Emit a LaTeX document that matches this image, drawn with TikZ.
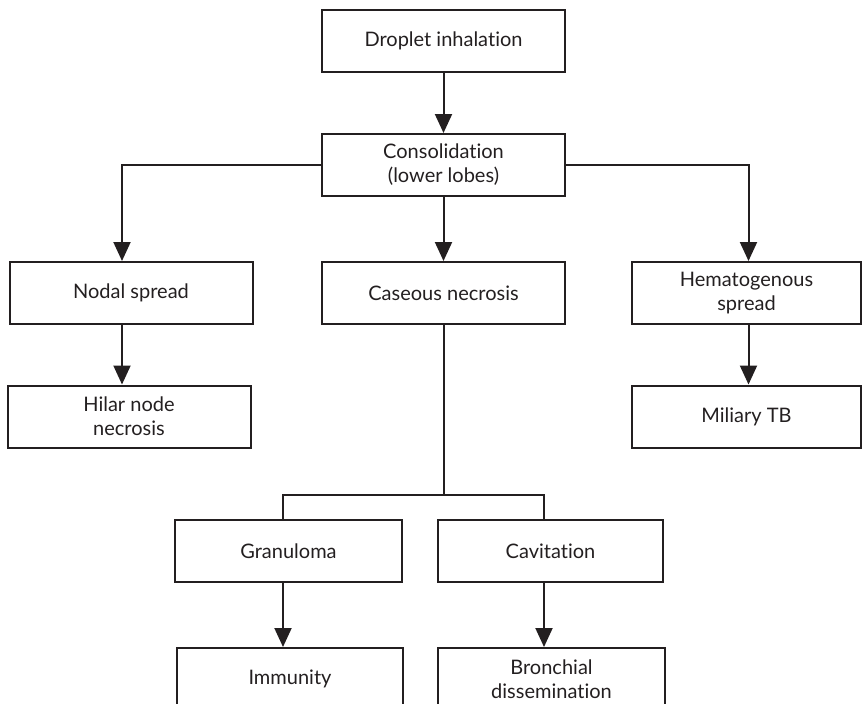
\documentclass[tikz,border=0pt]{standalone}
\usepackage{fontspec}
\setmainfont{Lato}[Ligatures=NoCommon]
\definecolor{ink}{RGB}{35, 31, 32}
\usetikzlibrary{arrows.meta, positioning, calc}

\begin{document}
\begin{tikzpicture}[
      x=1pt, y=-1pt,
      box/.style  = {draw=ink, line width=2pt, minimum width=243pt,
                     minimum height=62pt, align=center, text=ink,
                     font=\fontsize{20}{24}\selectfont, inner sep=2pt},
      arr/.style  = {-{Triangle[width=17pt,length=19pt]}, line width=2pt, draw=ink},
      link/.style = {line width=2pt, draw=ink},
    ]
    \useasboundingbox (0,0) rectangle (862,704);

    % --- Colonne (asse X) ---
    \def\xLeft{131}
    \def\xMid{443.5}
    \def\xRight{746.5}

    % --- Boxes ---
    \node[box] (drop) at (\xMid, 41)  {Droplet inhalation};
    \node[box] (cons) at (\xMid, 165) {Consolidation\\(lower lobes)};
    \node[box] (nodal) at (\xLeft, 293) {Nodal spread};
    \node[box] (case) at (\xMid, 293) {Caseous necrosis};
    \node[box, minimum width=229pt] (hema) at (\xRight, 293) {Hematogenous\\spread};
    \node[box] (hilar) at (129, 416.5) {Hilar node\\necrosis};
    \node[box, minimum width=229pt] (mil) at (\xRight, 416.5) {Miliary TB};
    \node[box, minimum width=227pt] (gran) at (288.5, 551) {Granuloma};
    \node[box, minimum width=225pt] (cav) at (550.5, 551) {Cavitation};
    \node[box, minimum width=226pt] (imm) at (290, 679) {Immunity};
    \node[box, minimum width=227pt] (bron) at (551.5, 679) {Bronchial\\dissemination};

    % --- Frecce ---
    \draw[arr] (drop) -- (cons);
    \draw[arr] (cons.west) -| ([xshift=-9pt]nodal.north);
    \draw[arr] (cons) -- (case);
    \draw[arr] (cons.east) -| ([xshift=2pt]hema.north);
    \draw[arr] ([xshift=-9pt]nodal.south) -- ([xshift=-7pt]hilar.north);
    \draw[arr] ([xshift=2pt]hema.south) -- ([xshift=2pt]mil.north);

    % caseous necrosis si divide
    \coordinate (split) at (\xMid, 495);
    \draw[link] (case.south) -- (split);
    \draw[link] ([xshift=-5.5pt]gran.north) |- (split) -| ([xshift=-6.5pt]cav.north);
    \draw[arr] ([xshift=-5.5pt]gran.south) -- ([xshift=-7pt]imm.north);
    \draw[arr] ([xshift=-6.5pt]cav.south) -- ([xshift=-7.5pt]bron.north);

  \end{tikzpicture}
\end{document}
